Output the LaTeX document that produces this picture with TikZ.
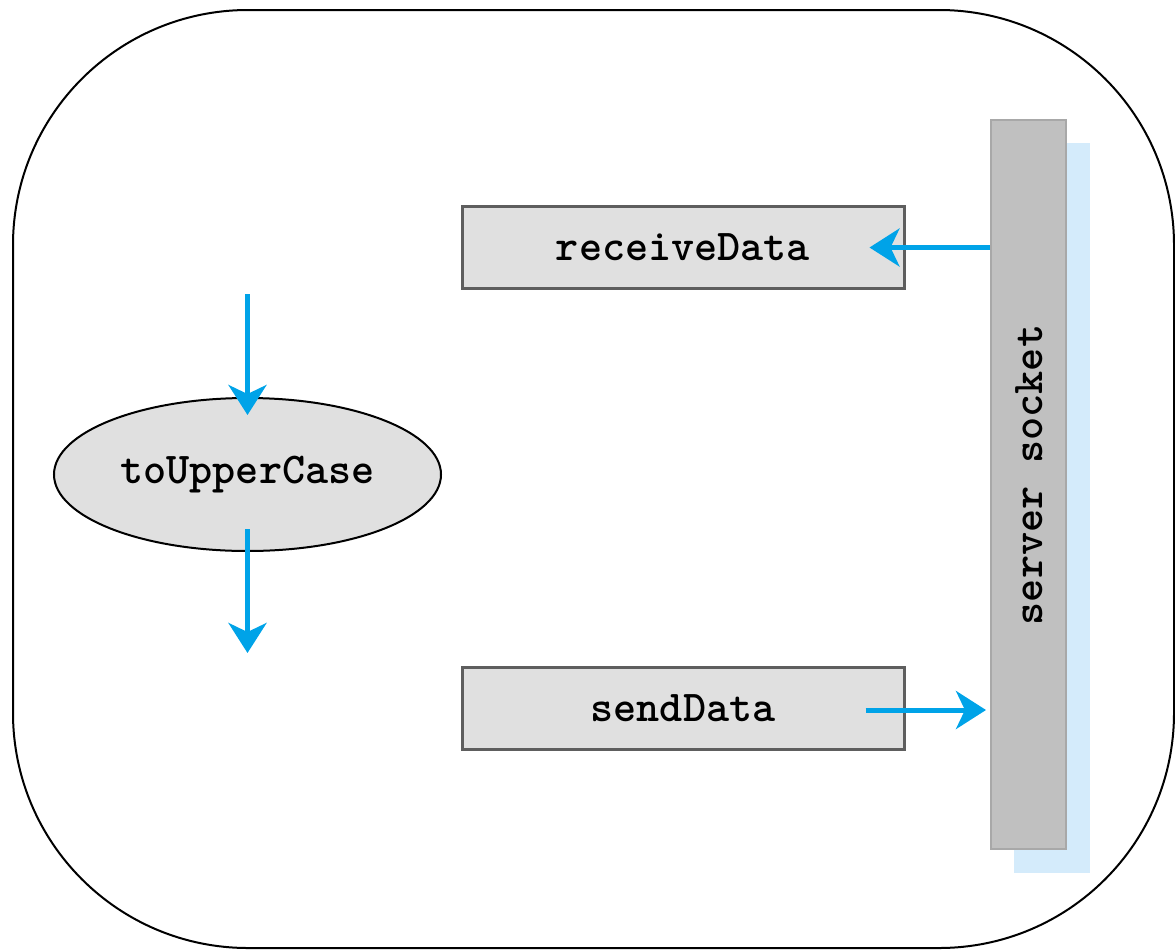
\documentclass[tikz,border=0pt]{standalone}
\usetikzlibrary{arrows.meta,calc,shapes.geometric}
\definecolor{flowblue}{HTML}{00A3E8}
\definecolor{boxfill}{HTML}{E0E0E0}
\definecolor{boxline}{HTML}{5E5E5E}
\definecolor{sockfill}{HTML}{C0C0C0}
\definecolor{sockline}{HTML}{A8A8A8}
\definecolor{sockshade}{HTML}{D4EBFB}
\tikzset{
  codefont/.style={font=\ttfamily\bfseries\fontsize{44}{44}\selectfont},
  procbox/.style={rectangle, draw=boxline, line width=3pt, fill=boxfill,
    minimum width=442pt, minimum height=82pt, inner sep=0pt, codefont},
  opoval/.style={ellipse, draw=black, line width=2pt, fill=boxfill,
    minimum width=387pt, minimum height=153pt, inner sep=0pt, codefont},
  sockbar/.style={rectangle, draw=sockline, line width=2pt, fill=sockfill,
    minimum width=75pt, minimum height=729pt, inner sep=0pt},
  sockshadow/.style={rectangle, fill=sockshade,
    minimum width=76pt, minimum height=730pt, inner sep=0pt},
  flow/.style={draw=flowblue, line width=5pt,
    -{Stealth[length=30pt, width=38pt, inset=9pt]}},
}
\begin{document}
\begin{tikzpicture}[x=1pt, y=-1pt]
  \useasboundingbox (0,0) rectangle (1175,951);

  % process boundary
  \draw[line width=2pt, rounded corners=235pt] (13,10) rectangle (1174,948);

  % server socket with its light blue shadow
  \node[sockshadow] (shade) at (1052,508) {};
  \node[sockbar] (socket) at (1028.5,484.5) {};
  \node[codefont, rotate=90] (socklabel) at (1029,475) {server socket};

  % operations
  \node[procbox] (recv) at (683,247.5) {receiveData};
  \node[procbox] (send) at (683,708.5) {sendData};
  \node[opoval] (upper) at (247.5,474.5) {toUpperCase};

  % data flow
  \coordinate (inStart) at ($(upper.north)+(0,-103)$);
  \coordinate (outEnd) at ($(upper.south)+(0,101)$);
  \draw[flow] (inStart) -- ($(upper.north)+(0,18)$);
  \draw[flow] ($(upper.south)+(0,-23)$) -- (outEnd);
  \draw[flow] (socket.west |- recv.east) -- ($(recv.east)+(-36,0)$);
  \draw[flow] ($(send.east)+(-40,1.5)$) -- ($(socket.west |- send.east)+(-4,1.5)$);
\end{tikzpicture}
\end{document}
